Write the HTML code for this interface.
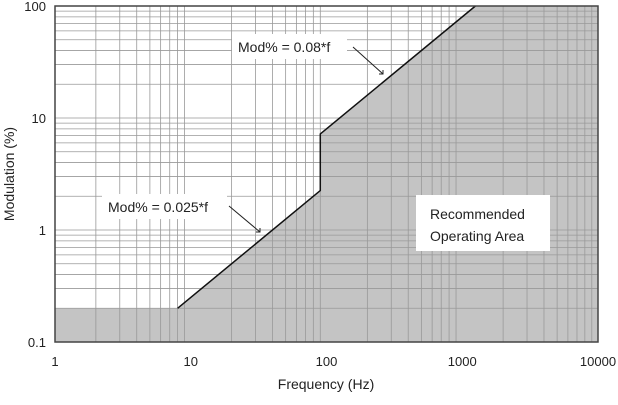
<!DOCTYPE html>
<html><head><meta charset="utf-8"><style>
body{margin:0;background:#fff;}
svg text{font-family:"Liberation Sans",sans-serif;fill:#222;}
</style></head><body>
<svg id="chart" width="618" height="400" viewBox="0 0 618 400">
<g id="shade"></g><g id="grid"></g><g id="lines"></g><g id="axes"></g><g id="ann"></g>
</svg>
<script>
const xTicks=[1,10,100,1000,10000];
const xTickLabels=["1","10","100","1000","10000"];
const yTicks=[0.1,1,10,100];
const yTickLabels=["0.1","1","10","100"];
const boundaryFreq=[1,8,90,90,1250,10000];
const boundaryMod=[0.2,0.2,2.25,7.2,100,100];
const L=55,R=598,T=6,B=342;
const xs=f=>L+(Math.log10(f))/4*(R-L);
const ys=v=>B-(Math.log10(v)+1)/3*(B-T);
const NS="http://www.w3.org/2000/svg";
function mk(t,a,p){const e=document.createElementNS(NS,t);for(const k in a)e.setAttribute(k,a[k]);p.appendChild(e);return e;}
const g=id=>document.getElementById(id);
// shaded region
let d="M"+xs(boundaryFreq[0])+","+ys(0.1);
boundaryFreq.forEach((f,i)=>{d+=" L"+xs(f)+","+ys(boundaryMod[i]);});
d+=" L"+xs(10000)+","+ys(0.1)+"Z";
const sh=mk("path",{d:d,fill:"#c4c4c4"},g("shade"));


// grid
for(let e=0;e<4;e++)for(let m=2;m<=9;m++){const x=xs(m*Math.pow(10,e));
 const l=mk("line",{x1:x,x2:x,y1:T,y2:B,stroke:"#999","stroke-width":0.8},g("grid"));
 
 }
for(let e=-1;e<2;e++)for(let m=1;m<=9;m++){const v=m*Math.pow(10,e);if(m==1&&e==-1)continue;const y=ys(v);
 const l=mk("line",{x1:L,x2:R,y1:y,y2:y,stroke:"#999","stroke-width":0.8},g("grid"));
 
 }
// boundary line
let p="";boundaryFreq.slice(1,5).forEach((f,i)=>{p+=(i?" L":"M")+xs(f)+","+ys(boundaryMod[i+1]);});
const bl=mk("path",{d:p,fill:"none",stroke:"#111","stroke-width":1.5},g("lines"));


// axes
const fr=mk("rect",{x:L,y:T,width:R-L,height:B-T,fill:"none",stroke:"#444","stroke-width":1.5},g("axes"));


xTicks.forEach((f,i)=>{const t=mk("text",{x:xs(f),y:B+24,"font-size":13,"text-anchor":"middle"},g("axes"));t.textContent=xTickLabels[i];
 
 });
yTicks.forEach((v,i)=>{const t=mk("text",{x:L-9,y:ys(v)+5,"font-size":13,"text-anchor":"end"},g("axes"));t.textContent=yTickLabels[i];
 
 });
const xt=mk("text",{x:326,y:389,"font-size":14,"text-anchor":"middle"},g("axes"));xt.textContent="Frequency (Hz)";


const yt=mk("text",{x:14,y:174,"font-size":14,"text-anchor":"middle",transform:"rotate(-90 14 174)"},g("axes"));yt.textContent="Modulation (%)";


// annotations
function box(x,y,w,h,name){const r=mk("rect",{x:x,y:y,width:w,height:h,fill:"#fff"},g("ann"));}
box(232,34,115,25,'annotation-box-high');
box(102,194,125,25,'annotation-box-low');
box(416,195,134,56,'area-label-box');
function txt(x,y,s,name){const t=mk("text",{x:x,y:y,"font-size":14},g("ann"));t.textContent=s;}
txt(238,52,"Mod% = 0.08*f",'annotation-high');
txt(108,212,"Mod% = 0.025*f",'annotation-low');
txt(430,219,"Recommended",'area-label-line1');
txt(430,241,"Operating Area",'area-label-line2');
function arr(x1,y1,x2,y2,name){const l=mk("path",{d:`M${x1},${y1} L${x2},${y2} M${x2-4},${y2} L${x2},${y2} L${x2},${y2-4}`,stroke:"#222",fill:"none","stroke-width":1},g("ann"));}
arr(353,47,383,74,'arrow-high');
arr(229,206,260,232,'arrow-low');
</script>
</body></html>
